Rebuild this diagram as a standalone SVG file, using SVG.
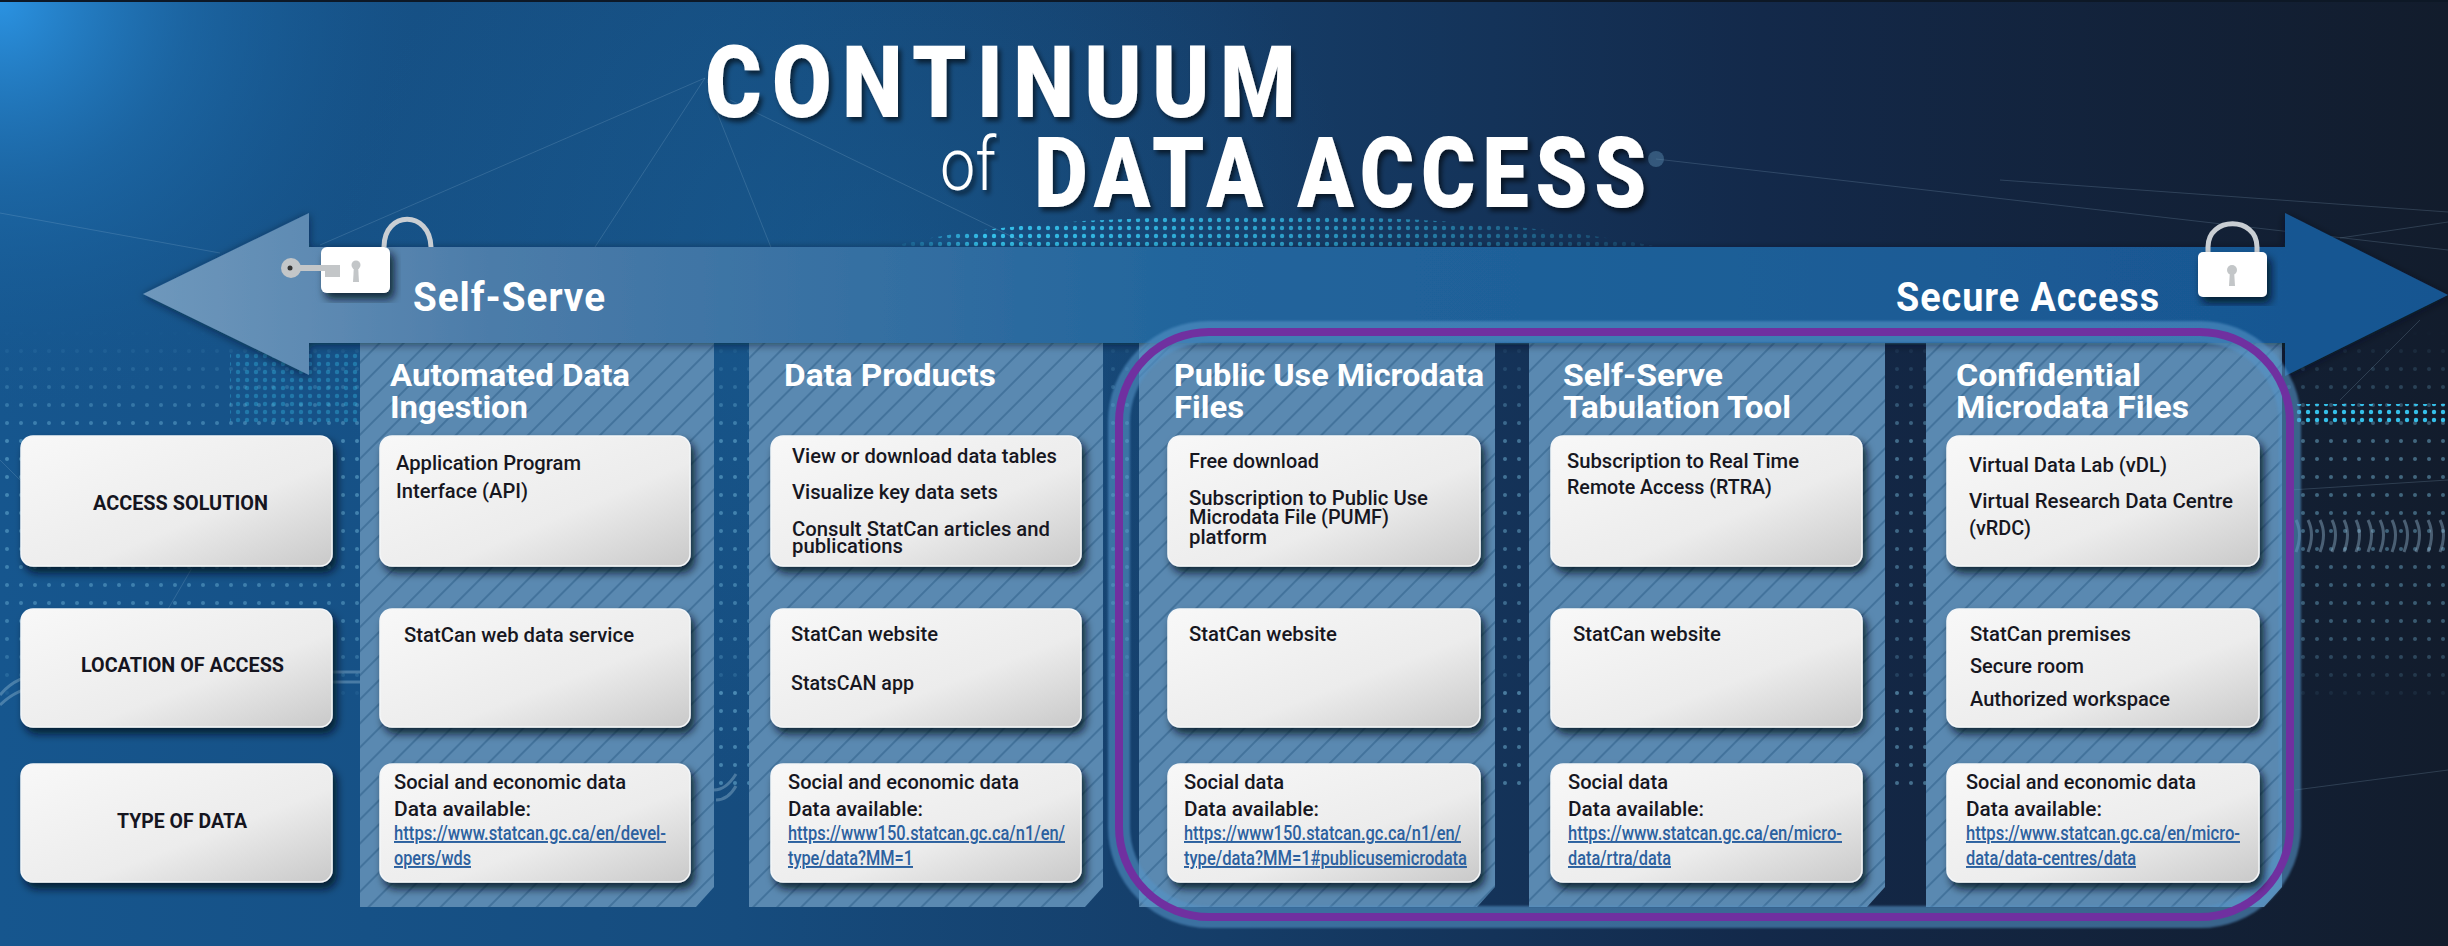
<svg xmlns="http://www.w3.org/2000/svg" width="2448" height="946" viewBox="0 0 2448 946">
<style>
text{font-family:Roboto,"Open Sans","Liberation Sans",sans-serif}
.ttl{font-weight:900;fill:#fff;filter:url(#ts)}
.of{font-weight:300;fill:#fff;font-size:74px;filter:url(#ts)}
.end{font-weight:700;fill:#fff;font-size:40px;letter-spacing:1px}
.head{font-weight:700;fill:#fff;font-size:32px}
.lab{font-weight:700;fill:#15151f;font-size:21px}
.t{font-weight:500;fill:#17171f;font-size:20.5px}
.u{font-weight:500;fill:#2c619f;font-size:19.5px;text-decoration:underline}
.card{fill:url(#cg);stroke:#f4f6f8;stroke-width:1.5;filter:url(#cs)}
.col{fill:url(#hatch)}
.net{stroke:#9fc4dd;stroke-width:1;fill:none;opacity:.2}
</style>
<defs>
<linearGradient id="bg" x1="0" x2="1" y1="0" y2="0"><stop offset="0" stop-color="#16568e"/><stop offset=".3" stop-color="#164c7e"/><stop offset=".5" stop-color="#153d68"/><stop offset=".72" stop-color="#13294a"/><stop offset="1" stop-color="#121c2c"/></linearGradient>
<radialGradient id="corner" gradientUnits="userSpaceOnUse" cx="0" cy="0" r="420"><stop offset="0" stop-color="#2b93e2"/><stop offset=".45" stop-color="#1f6fb0" stop-opacity=".6"/><stop offset="1" stop-color="#16568e" stop-opacity="0"/></radialGradient>
<radialGradient id="glow" gradientUnits="userSpaceOnUse" cx="850" cy="300" r="520"><stop offset="0" stop-color="#1a6ba6" stop-opacity=".35"/><stop offset="1" stop-color="#1a6ba6" stop-opacity="0"/></radialGradient>
<linearGradient id="arr" gradientUnits="userSpaceOnUse" x1="143" x2="2448" y1="0" y2="0"><stop offset="0" stop-color="#6f98bc"/><stop offset=".15" stop-color="#4c7ca9"/><stop offset=".45" stop-color="#22659c"/><stop offset="1" stop-color="#175591"/></linearGradient>
<linearGradient id="cg" x1="0" y1="0" x2="1" y2="1"><stop offset="0" stop-color="#f8f8f8"/><stop offset=".6" stop-color="#ececec"/><stop offset="1" stop-color="#c9c9c9"/></linearGradient>
<pattern id="hatch" width="17" height="17" patternUnits="userSpaceOnUse" patternTransform="rotate(45)"><rect width="17" height="17" fill="#5a89b1"/><rect width="2" height="17" fill="#43739c"/></pattern>
<pattern id="dots" width="14" height="18" patternUnits="userSpaceOnUse"><circle cx="7" cy="9" r="2" fill="#7fc6e6"/></pattern>
<pattern id="fine" width="9" height="8" patternUnits="userSpaceOnUse"><circle cx="4" cy="4" r="2.2" fill="#35c0ea"/></pattern>
<linearGradient id="fade" x1="0" x2="0" y1="0" y2="1"><stop offset="0" stop-color="#fff" stop-opacity="0"/><stop offset=".3" stop-color="#fff" stop-opacity=".75"/><stop offset=".8" stop-color="#fff" stop-opacity=".6"/><stop offset="1" stop-color="#fff" stop-opacity="0"/></linearGradient>
<linearGradient id="archfade" x1="0" x2="1" y1="0" y2="0"><stop offset="0" stop-color="#fff" stop-opacity="0"/><stop offset=".12" stop-color="#fff"/><stop offset=".5" stop-color="#fff" stop-opacity=".75"/><stop offset="1" stop-color="#fff" stop-opacity=".1"/></linearGradient>
<mask id="m" maskUnits="userSpaceOnUse" x="0" y="330" width="2448" height="380"><rect x="0" y="330" width="2448" height="380" fill="url(#fade)"/></mask>
<mask id="archm" maskUnits="userSpaceOnUse" x="890" y="205" width="780" height="50"><rect x="890" y="205" width="780" height="50" fill="url(#archfade)"/></mask>
<filter id="ts" x="-5%" y="-20%" width="110%" height="140%"><feDropShadow dx="3" dy="4" stdDeviation="2.5" flood-color="#000" flood-opacity=".6"/></filter>
<filter id="cs" x="-10%" y="-10%" width="125%" height="130%"><feDropShadow dx="4" dy="6" stdDeviation="4.5" flood-color="#04101c" flood-opacity=".8"/></filter>
<filter id="as" x="-3%" y="-15%" width="106%" height="130%"><feDropShadow dx="0" dy="2" stdDeviation="4" flood-color="#041020" flood-opacity=".55"/></filter>
<filter id="b1"><feGaussianBlur stdDeviation="1"/></filter>
</defs>

<g id="background">
<rect width="2448" height="946" fill="url(#bg)"/>
<rect width="2448" height="946" fill="url(#corner)"/>
<rect width="2448" height="946" fill="url(#glow)"/>
<rect x="0" y="0" width="2448" height="2" fill="#0d1826"/>
<g mask="url(#m)" opacity=".6"><rect x="0" y="330" width="2448" height="380" fill="url(#dots)"/></g>
<g opacity=".45"><rect x="714" y="690" width="35" height="95" fill="url(#dots)"/><rect x="1495" y="690" width="34" height="95" fill="url(#dots)"/><rect x="1885" y="690" width="41" height="95" fill="url(#dots)"/></g>
<rect x="230" y="350" width="130" height="75" fill="url(#fine)" opacity=".35"/>
<g mask="url(#archm)"><path d="M890 247Q1000 218 1250 216Q1500 216 1660 247Z" fill="url(#fine)"/></g>
<rect x="2285" y="404" width="163" height="20" fill="url(#fine)"/>
<path d="M2296 520q7 14 0 32M2308 520q7 14 0 32M2320 520q7 14 0 32M2332 520q7 14 0 32M2344 520q7 14 0 32M2356 520q7 14 0 32M2368 520q7 14 0 32M2380 520q7 14 0 32M2392 520q7 14 0 32M2404 520q7 14 0 32M2416 520q7 14 0 32M2428 520q7 14 0 32M2440 520q7 14 0 32" stroke="#9fc4dd" stroke-width="3" fill="none" opacity=".4"/>
<path d="M0 695Q20 670 60 675M0 705Q25 680 60 690M330 672H360M332 682H360M714 790q12 0 22 -16M716 800q12 0 20 -14" stroke="#a9cbe0" stroke-width="3" fill="none" opacity=".35"/>
<path d="M0 213L220 253M705 78L320 245M705 78L595 247M712 100L800 320M730 100L1060 260M1656 159L2448 250M2000 180L2448 212M2340 238L2448 222M2290 490L2448 480M2295 790L2448 770M2340 400L2420 320M220 520L150 640M0 460L60 520" class="net"/>
<circle cx="1656" cy="159" r="8" fill="#5d8fb2" opacity=".45"/>
</g>

<g id="columns">
<path id="column-1" class="col" d="M360 343H714V887L696 907H360Z"/>
<path id="column-2" class="col" d="M749 343H1103V887L1085 907H749Z"/>
<path id="column-3" class="col" d="M1139 343H1495V887L1477 907H1139Z"/>
<path id="column-4" class="col" d="M1529 343H1885V887L1867 907H1529Z"/>
<path id="column-5" class="col" d="M1926 343H2282V887L2264 907H1926Z"/>
</g>

<g id="continuum-arrow">
<path d="M143 294L309 213V247H2285V213L2448 295L2285 376V343H309V375Z" fill="url(#arr)" filter="url(#as)"/>
</g>

<g id="highlight">
<rect x="1119" y="332" width="1171" height="585" rx="90" fill="none" stroke="#5493c6" stroke-width="22" opacity=".6" filter="url(#b1)"/>
<rect x="1119" y="332" width="1171" height="585" rx="90" fill="none" stroke="#7030a0" stroke-width="8"/>
</g>

<g id="title">
<text class="ttl" x="705" y="117" font-size="100" letter-spacing="12" textLength="601" lengthAdjust="spacingAndGlyphs">CONTINUUM</text>
<text class="of" x="940" y="190" textLength="56" lengthAdjust="spacingAndGlyphs">of</text>
<text class="ttl" x="1034" y="207" font-size="98" letter-spacing="8" textLength="619" lengthAdjust="spacingAndGlyphs">DATA ACCESS</text>
</g>

<g id="open-lock">
<path d="M384 247C384 210 430 210 431 247" fill="none" stroke="#c9ced3" stroke-width="5"/>
<rect x="321" y="247" width="69" height="46" rx="6" fill="#fff" filter="url(#cs)"/>
<circle cx="291" cy="268" r="10" fill="#c3c6c8"/><circle cx="290" cy="268" r="2.5" fill="#333"/>
<rect x="298" y="265" width="42" height="6" fill="#c3c6c8"/>
<rect x="325" y="271" width="15" height="6" fill="#c3c6c8"/>
<circle cx="356" cy="265" r="4.5" fill="#c3c6c8"/><path d="M354 265h4l1 17h-6z" fill="#c3c6c8"/>
</g>
<g id="secure-lock">
<path d="M2208 254V247C2208 216 2257 216 2257 247V254" fill="none" stroke="#c9ced3" stroke-width="5"/>
<rect x="2198" y="252" width="69" height="45" rx="5" fill="#fff" filter="url(#cs)"/>
<circle cx="2232" cy="270" r="5" fill="#c3c6c8"/><path d="M2230 270h4l1 16h-6z" fill="#c3c6c8"/>
</g>

<text class="end" id="self-serve" x="413" y="311" textLength="193" lengthAdjust="spacingAndGlyphs">Self-Serve</text>
<text class="end" id="secure-access" x="1896" y="311" textLength="264" lengthAdjust="spacingAndGlyphs">Secure Access</text>

<g id="head-1"><text class="head" x="390" y="386" textLength="240" lengthAdjust="spacingAndGlyphs">Automated Data</text><text class="head" x="390" y="418" textLength="138" lengthAdjust="spacingAndGlyphs">Ingestion</text></g>
<g id="head-2"><text class="head" x="784" y="386" textLength="212" lengthAdjust="spacingAndGlyphs">Data Products</text></g>
<g id="head-3"><text class="head" x="1174" y="386" textLength="310" lengthAdjust="spacingAndGlyphs">Public Use Microdata</text><text class="head" x="1174" y="418" textLength="70" lengthAdjust="spacingAndGlyphs">Files</text></g>
<g id="head-4"><text class="head" x="1563" y="386" textLength="160" lengthAdjust="spacingAndGlyphs">Self-Serve</text><text class="head" x="1563" y="418" textLength="228" lengthAdjust="spacingAndGlyphs">Tabulation Tool</text></g>
<g id="head-5"><text class="head" x="1956" y="386" textLength="185" lengthAdjust="spacingAndGlyphs">Confidential</text><text class="head" x="1956" y="418" textLength="233" lengthAdjust="spacingAndGlyphs">Microdata Files</text></g>

<g id="label-access-solution"><rect class="card" x="21" y="436" width="311" height="130" rx="12"/><text class="lab" x="93" y="510" textLength="175" lengthAdjust="spacingAndGlyphs">ACCESS SOLUTION</text></g>
<g id="label-location"><rect class="card" x="21" y="609" width="311" height="118" rx="12"/><text class="lab" x="81" y="672" textLength="203" lengthAdjust="spacingAndGlyphs">LOCATION OF ACCESS</text></g>
<g id="label-type"><rect class="card" x="21" y="764" width="311" height="118" rx="12"/><text class="lab" x="117" y="828" textLength="130" lengthAdjust="spacingAndGlyphs">TYPE OF DATA</text></g>

<g id="access-1"><rect class="card" x="380" y="436" width="310" height="130" rx="12"/>
<text class="t" x="396" y="470" textLength="185" lengthAdjust="spacingAndGlyphs">Application Program</text>
<text class="t" x="396" y="498" textLength="132" lengthAdjust="spacingAndGlyphs">Interface (API)</text></g>
<g id="access-2"><rect class="card" x="771" y="436" width="310" height="130" rx="12"/>
<text class="t" x="792" y="463" textLength="265" lengthAdjust="spacingAndGlyphs">View or download data tables</text>
<text class="t" x="792" y="499" textLength="206" lengthAdjust="spacingAndGlyphs">Visualize key data sets</text>
<text class="t" x="792" y="536" textLength="258" lengthAdjust="spacingAndGlyphs">Consult StatCan articles and</text>
<text class="t" x="792" y="553" textLength="111" lengthAdjust="spacingAndGlyphs">publications</text></g>
<g id="access-3"><rect class="card" x="1168" y="436" width="312" height="130" rx="12"/>
<text class="t" x="1189" y="468" textLength="130" lengthAdjust="spacingAndGlyphs">Free download</text>
<text class="t" x="1189" y="505" textLength="239" lengthAdjust="spacingAndGlyphs">Subscription to Public Use</text>
<text class="t" x="1189" y="524" textLength="200" lengthAdjust="spacingAndGlyphs">Microdata File (PUMF)</text>
<text class="t" x="1189" y="544" textLength="78" lengthAdjust="spacingAndGlyphs">platform</text></g>
<g id="access-4"><rect class="card" x="1551" y="436" width="311" height="130" rx="12"/>
<text class="t" x="1567" y="468" textLength="232" lengthAdjust="spacingAndGlyphs">Subscription to Real Time</text>
<text class="t" x="1567" y="494" textLength="205" lengthAdjust="spacingAndGlyphs">Remote Access (RTRA)</text></g>
<g id="access-5"><rect class="card" x="1947" y="436" width="312" height="130" rx="12"/>
<text class="t" x="1969" y="472" textLength="198" lengthAdjust="spacingAndGlyphs">Virtual Data Lab (vDL)</text>
<text class="t" x="1969" y="508" textLength="264" lengthAdjust="spacingAndGlyphs">Virtual Research Data Centre</text>
<text class="t" x="1969" y="535" textLength="62" lengthAdjust="spacingAndGlyphs">(vRDC)</text></g>

<g id="location-1"><rect class="card" x="380" y="609" width="310" height="118" rx="12"/>
<text class="t" x="404" y="642" textLength="230" lengthAdjust="spacingAndGlyphs">StatCan web data service</text></g>
<g id="location-2"><rect class="card" x="771" y="609" width="310" height="118" rx="12"/>
<text class="t" x="791" y="641" textLength="147" lengthAdjust="spacingAndGlyphs">StatCan website</text>
<text class="t" x="791" y="690" textLength="123" lengthAdjust="spacingAndGlyphs">StatsCAN app</text></g>
<g id="location-3"><rect class="card" x="1168" y="609" width="312" height="118" rx="12"/>
<text class="t" x="1189" y="641" textLength="148" lengthAdjust="spacingAndGlyphs">StatCan website</text></g>
<g id="location-4"><rect class="card" x="1551" y="609" width="311" height="118" rx="12"/>
<text class="t" x="1573" y="641" textLength="148" lengthAdjust="spacingAndGlyphs">StatCan website</text></g>
<g id="location-5"><rect class="card" x="1947" y="609" width="312" height="118" rx="12"/>
<text class="t" x="1970" y="641" textLength="161" lengthAdjust="spacingAndGlyphs">StatCan premises</text>
<text class="t" x="1970" y="673" textLength="114" lengthAdjust="spacingAndGlyphs">Secure room</text>
<text class="t" x="1970" y="706" textLength="200" lengthAdjust="spacingAndGlyphs">Authorized workspace</text></g>

<g id="type-1"><rect class="card" x="380" y="764" width="310" height="118" rx="12"/>
<text class="t" x="394" y="789" textLength="232" lengthAdjust="spacingAndGlyphs">Social and economic data</text>
<text class="t" x="394" y="816" textLength="137" lengthAdjust="spacingAndGlyphs">Data available:</text>
<text class="u" x="394" y="840" textLength="272" lengthAdjust="spacingAndGlyphs">https://www.statcan.gc.ca/en/devel-</text>
<text class="u" x="394" y="865" textLength="77" lengthAdjust="spacingAndGlyphs">opers/wds</text></g>
<g id="type-2"><rect class="card" x="771" y="764" width="310" height="118" rx="12"/>
<text class="t" x="788" y="789" textLength="231" lengthAdjust="spacingAndGlyphs">Social and economic data</text>
<text class="t" x="788" y="816" textLength="135" lengthAdjust="spacingAndGlyphs">Data available:</text>
<text class="u" x="788" y="840" textLength="277" lengthAdjust="spacingAndGlyphs">https://www150.statcan.gc.ca/n1/en/</text>
<text class="u" x="788" y="865" textLength="125" lengthAdjust="spacingAndGlyphs">type/data?MM=1</text></g>
<g id="type-3"><rect class="card" x="1168" y="764" width="312" height="118" rx="12"/>
<text class="t" x="1184" y="789" textLength="100" lengthAdjust="spacingAndGlyphs">Social data</text>
<text class="t" x="1184" y="816" textLength="135" lengthAdjust="spacingAndGlyphs">Data available:</text>
<text class="u" x="1184" y="840" textLength="277" lengthAdjust="spacingAndGlyphs">https://www150.statcan.gc.ca/n1/en/</text>
<text class="u" x="1184" y="865" textLength="283" lengthAdjust="spacingAndGlyphs">type/data?MM=1#publicusemicrodata</text></g>
<g id="type-4"><rect class="card" x="1551" y="764" width="311" height="118" rx="12"/>
<text class="t" x="1568" y="789" textLength="100" lengthAdjust="spacingAndGlyphs">Social data</text>
<text class="t" x="1568" y="816" textLength="136" lengthAdjust="spacingAndGlyphs">Data available:</text>
<text class="u" x="1568" y="840" textLength="274" lengthAdjust="spacingAndGlyphs">https://www.statcan.gc.ca/en/micro-</text>
<text class="u" x="1568" y="865" textLength="103" lengthAdjust="spacingAndGlyphs">data/rtra/data</text></g>
<g id="type-5"><rect class="card" x="1947" y="764" width="312" height="118" rx="12"/>
<text class="t" x="1966" y="789" textLength="230" lengthAdjust="spacingAndGlyphs">Social and economic data</text>
<text class="t" x="1966" y="816" textLength="136" lengthAdjust="spacingAndGlyphs">Data available:</text>
<text class="u" x="1966" y="840" textLength="274" lengthAdjust="spacingAndGlyphs">https://www.statcan.gc.ca/en/micro-</text>
<text class="u" x="1966" y="865" textLength="170" lengthAdjust="spacingAndGlyphs">data/data-centres/data</text></g>
</svg>
